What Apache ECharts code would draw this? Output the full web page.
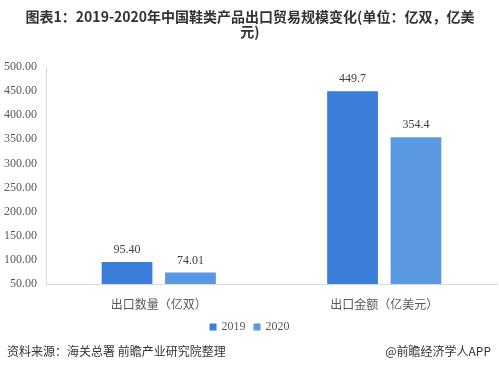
<!DOCTYPE html>
<html><head><meta charset="utf-8">
<script src="https://cdn.jsdelivr.net/npm/echarts@6/dist/echarts.min.js"></script>
<style>html,body{margin:0;padding:0;background:#fff;}#c{width:499px;height:369px;}</style>
</head><body><div id="c"></div>
<script>
var categories = ["出口数量（亿双）", "出口金额（亿美元）"];
var seriesNames = ["2019", "2020"];
var values2019 = [95.40, 449.7];
var values2020 = [74.01, 354.4];
var labels2019 = ["95.40", "449.7"];
var labels2020 = ["74.01", "354.4"];
var yTicks = [50, 100, 150, 200, 250, 300, 350, 400, 450, 500];
var titleText = '图表1：2019-2020年中国鞋类产品出口贸易规模变化(单位：亿双，亿美\n元)';

var chart = echarts.init(document.getElementById('c'), null, {renderer: 'canvas'});
var serif = "'Liberation Serif', 'DejaVu Serif', serif";
var sans = "'Noto Sans CJK SC', sans-serif";
function mk(name, vals, labs, color) {
  return {
    name: name, type: 'bar', data: vals, barWidth: '22.5%', barGap: '25%',
    itemStyle: {color: color},
    label: {show: true, position: 'top', distance: 6, color: '#404040', fontFamily: serif, fontSize: 12,
      formatter: function (p) { return labs[p.dataIndex]; }}
  };
}
chart.setOption({
  animation: false,
  legend: {
    data: seriesNames, bottom: 31, left: 'center', itemWidth: 7, itemHeight: 7, itemGap: 8,
    icon: 'rect', textStyle: {fontFamily: serif, fontSize: 12, color: '#595959'}
  },
  grid: {left: 46, right: 2, top: 67, bottom: 85},
  xAxis: {
    type: 'category', data: categories,
    axisLine: {lineStyle: {color: '#d9d9d9'}}, axisTick: {show: false},
    axisLabel: {fontFamily: sans, fontSize: 12, color: '#595959', margin: 14}
  },
  yAxis: {
    type: 'value', min: yTicks[0], max: yTicks[yTicks.length - 1], interval: 50,
    axisLine: {show: true, lineStyle: {color: '#d9d9d9'}}, axisTick: {show: false},
    splitLine: {show: false},
    axisLabel: {fontFamily: serif, fontSize: 12, color: '#595959', margin: 9,
      formatter: function (v) { return v.toFixed(2); }}
  },
  graphic: [
    {type: 'text', x: 250, y: 9, style: {text: titleText, align: 'center', lineHeight: 15,
      font: "bold 14px 'Noto Sans CJK SC'", fill: '#333'}},
    {type: 'text', left: 7, top: 345, style: {text: '资料来源：海关总署 前瞻产业研究院整理', font: "12px 'Noto Sans CJK SC'", fill: '#333'}},
    {type: 'text', right: 8, top: 345, style: {text: '@前瞻经济学人APP', font: "12px 'Noto Sans CJK SC'", fill: '#333'}}
  ],
  series: [mk(seriesNames[0], values2019, labels2019, '#3B7DD8'), mk(seriesNames[1], values2020, labels2020, '#5B98E2')]
});
</script></body></html>
